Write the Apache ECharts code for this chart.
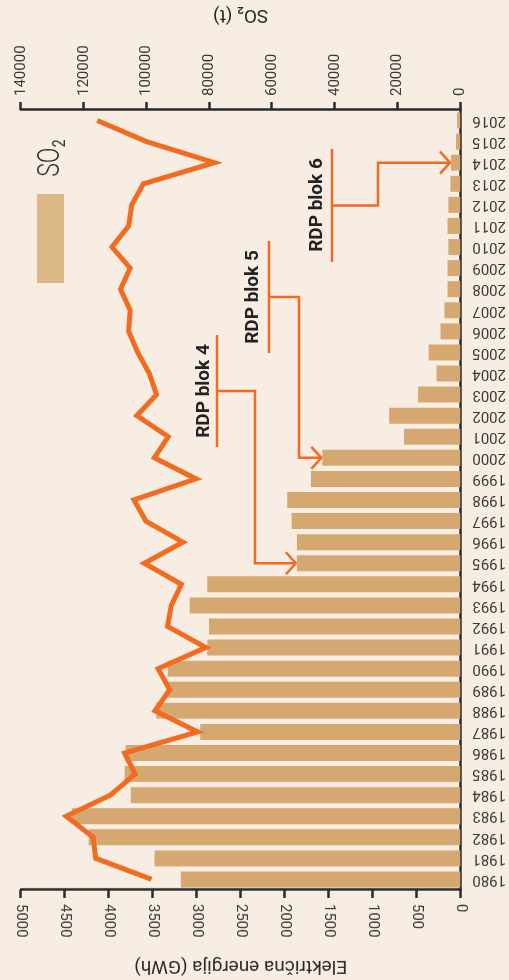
<!DOCTYPE html>
<html>
<head>
<meta charset="utf-8">
<script src="https://cdn.jsdelivr.net/npm/echarts@6/dist/echarts.min.js"></script>
<style>
  html, body { margin: 0; padding: 0; background: #f7ede2; }
  /* the figure is printed upside down, so the whole chart is turned */
  #chart { width: 509px; height: 980px; transform: rotate(180deg); }
</style>
</head>
<body>
<div id="chart"></div>
<script>
const years = [
  "1980", "1981", "1982", "1983", "1984", "1985", "1986", "1987", "1988", "1989",
  "1990", "1991", "1992", "1993", "1994", "1995", "1996", "1997", "1998", "1999",
  "2000", "2001", "2002", "2003", "2004", "2005", "2006", "2007", "2008", "2009",
  "2010", "2011", "2012", "2013", "2014", "2015", "2016",
];

// electricity production, GWh
const energy = [
  3180, 3480, 4230, 4420, 3750, 3820, 3810, 2960, 3460, 3330,
  3330, 2880, 2860, 3080, 2880, 1860, 1860, 1920, 1970, 1700,
  1570, 640, 810, 480, 270, 360, 225, 180, 145, 145,
  135, 145, 135, 112, 105, 48, 37,
];

// SO2 emissions, t
const so2 = [
  98400, 116200, 117000, 125600, 111500, 103600, 107000, 83700, 97300, 92600,
  96300, 81100, 93300, 92100, 88900, 100700, 88400, 100200, 104000, 84200,
  97500, 93100, 103100, 96800, 99100, 102800, 105700, 105200, 108300, 105200,
  111000, 105700, 104700, 101000, 78400, 100000, 115700,
];

const energyTicks = { min: 0, max: 5000, interval: 500 };
const so2Ticks = { min: 0, max: 140000, interval: 20000 };

// desulphurisation units and the year each one came online
const units = [
  { label: "RDP blok 4", year: "1995" },
  { label: "RDP blok 5", year: "2000" },
  { label: "RDP blok 6", year: "2014" },
];

const ORANGE = "#f26b21";
const INK = "#2b2b2b";
const FONT = "Roboto, 'Noto Sans', sans-serif";

const chart = echarts.init(document.getElementById("chart"));

const valueAxis = (cfg) => ({
  type: "value",
  min: cfg.min,
  max: cfg.max,
  interval: cfg.interval,
  nameLocation: "middle",
  nameTextStyle: { color: INK, fontSize: 19, fontFamily: FONT },
  axisLine: { show: true, lineStyle: { color: INK, width: 2.5 } },
  axisTick: { show: true, length: 8, lineStyle: { color: INK, width: 2.5 } },
  axisLabel: {
    rotate: -90,
    margin: 14,
    fontSize: 15,
    color: "#3a3a3a",
    fontFamily: FONT,
    formatter: (v) => String(v), // no thousands separator
  },
  splitLine: { show: false },
});

const option = {
  backgroundColor: "#f7ede2",
  animation: false,
  grid: { left: 43, right: 21, top: 87, bottom: 101 },
  xAxis: [
    Object.assign(valueAxis(energyTicks), {
      position: "top",
      name: "Električna energija (GWh)",
      nameGap: 66,
    }),
    Object.assign(valueAxis(so2Ticks), {
      position: "bottom",
      name: "SO₂ (t)",
      nameGap: 86,
    }),
  ],
  yAxis: {
    type: "category",
    inverse: true,
    data: years,
    axisLine: { lineStyle: { color: INK, width: 2.5 } },
    axisTick: { show: false },
    axisLabel: { margin: 12, fontSize: 15, color: "#3a3a3a", fontFamily: FONT },
  },
  series: [
    {
      type: "bar",
      xAxisIndex: 0,
      data: energy,
      barWidth: 16,
      itemStyle: { color: "#d5a872" },
    },
    {
      type: "line",
      xAxisIndex: 1,
      data: so2,
      symbol: "none",
      lineStyle: { color: ORANGE, width: 5, join: "miter" },
    },
  ],
};

chart.setOption(option);

// callout layout (pixels in the unrotated frame)
const calloutLayout = [
  { textX: 305, textY: 589, bracketX: 292, top: 533, bottom: 645, elbowX: 254 },
  { textX: 256, textY: 683, bracketX: 240, top: 627, bottom: 739, elbowX: 210 },
  { textX: 192, textY: 775, bracketX: 177, top: 718, bottom: 831, elbowX: 131 },
];

const stroke = { stroke: ORANGE, lineWidth: 2.5, fill: null };
const graphics = [];

units.forEach((u, i) => {
  const lay = calloutLayout[i];
  const idx = years.indexOf(u.year);
  const [tx, ty] = chart.convertToPixel({ xAxisIndex: 0, yAxisIndex: 0 }, [energy[idx], idx]);
  const midY = (lay.top + lay.bottom) / 2;

  graphics.push({
    type: "text",
    x: lay.textX,
    y: lay.textY,
    rotation: -Math.PI / 2,
    style: {
      text: u.label,
      fill: "#222",
      font: "bold 19px " + FONT,
      align: "center",
      verticalAlign: "middle",
      textAlign: "center",
      textVerticalAlign: "middle",
    },
  });
  graphics.push({
    type: "line",
    shape: { x1: lay.bracketX, y1: lay.top, x2: lay.bracketX, y2: lay.bottom },
    style: stroke,
  });
  graphics.push({
    type: "polyline",
    shape: { points: [[lay.bracketX, midY], [lay.elbowX, midY], [lay.elbowX, ty], [tx + 1, ty]] },
    style: stroke,
  });
  graphics.push({
    type: "polyline",
    shape: { points: [[tx + 11, ty - 11], [tx + 1, ty], [tx + 11, ty + 11]] },
    style: stroke,
  });
});

// legend patch
graphics.push({
  type: "rect",
  shape: { x: 445, y: 697, width: 27, height: 89 },
  style: { fill: "#ddb887" },
});
graphics.push({
  type: "text",
  x: 458,
  y: 822,
  rotation: -Math.PI / 2,
  scaleX: 0.72,
  style: {
    text: "SO₂",
    fill: "#333",
    font: "300 32px " + FONT,
    align: "center",
    verticalAlign: "middle",
    textAlign: "center",
    textVerticalAlign: "middle",
  },
});

chart.setOption({ graphic: { elements: graphics } });
</script>
</body>
</html>
